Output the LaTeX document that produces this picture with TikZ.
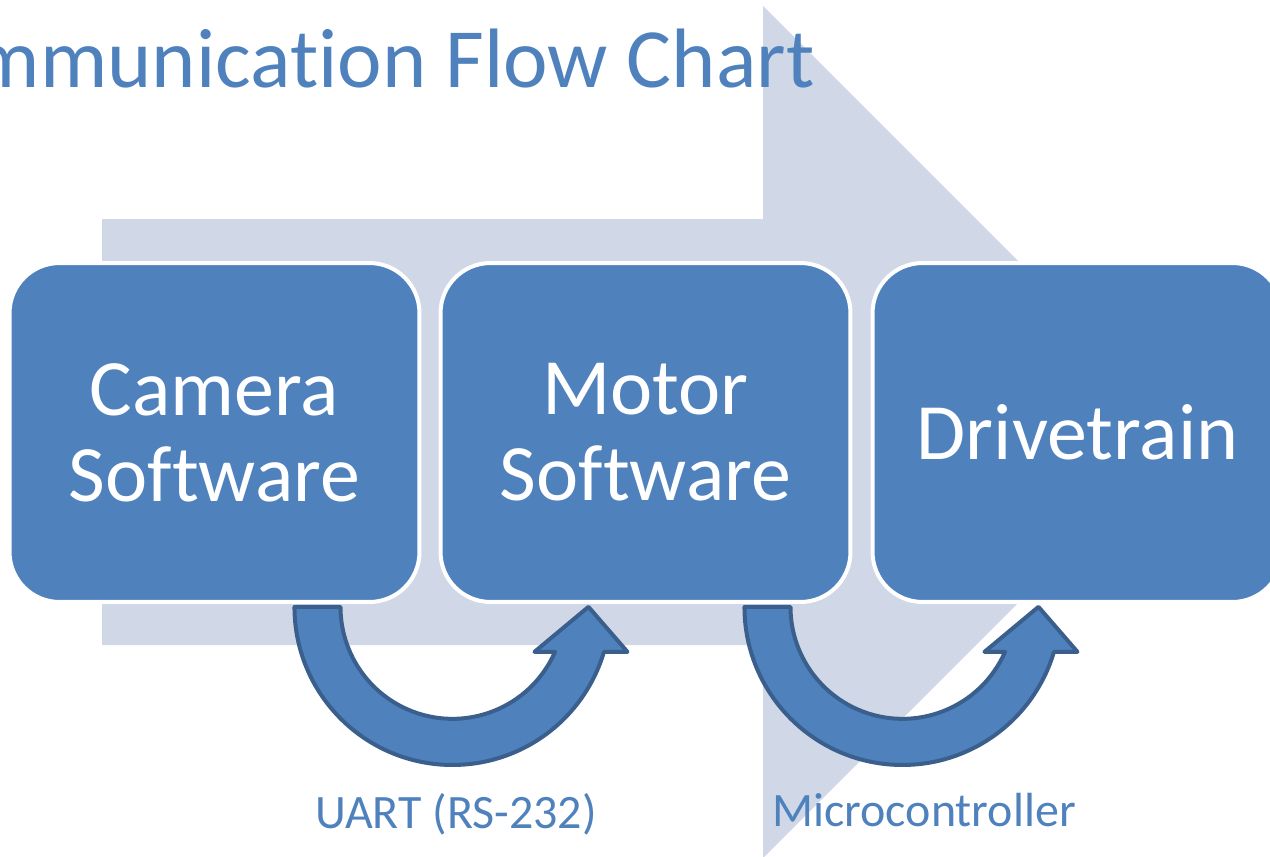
\documentclass[tikz,border=0pt]{standalone}
\usepackage{fontspec}
\setmainfont{Carlito}[Ligatures=NoCommon]
\usetikzlibrary{calc}
\definecolor{accent}{HTML}{4F81BD}
\definecolor{pale}{HTML}{D0D8E8}
\definecolor{rim}{HTML}{3A5F8C}

\begin{document}
\begin{tikzpicture}[
  x=0.02cm, y=-0.02cm,
  box/.style={draw=white, line width=0.08cm, fill=accent, rounded corners=1cm, minimum width=8.2cm, minimum height=6.78cm, inner sep=0pt, align=center, text=white, font=\fontsize{45.5pt}{48.9pt}\selectfont},
  lbl/.style={text=accent, inner sep=0pt, font=\fontsize{27.3pt}{30pt}\selectfont},
  turn/.style={draw=rim, line width=0.08cm, fill=accent, line join=round}
]
\clip (0,0) rectangle (1270,856);
% big background arrow
\fill[pale] (102,219) -- (763,219) -- (763,6) -- (1189,432) -- (763,858) -- (763,645) -- (102,645) -- cycle;
\node[text=accent, inner sep=0pt, anchor=base east, font=\fontsize{48pt}{56pt}\selectfont] (ttl) at (815,87) {Communication Flow Chart};
\node[box] (cam) at (214.5,432.5) {Camera\\Software};
\node[box] (mot) at (645.5,432.5) {Motor\\Software};
\node[box] (drv) at (1077.5,432.5) {Drivetrain};
\coordinate (u1) at ($(cam.south east)+(31,3)$);
\coordinate (u2) at ($(mot.south east)+(50,3)$);
\foreach \c in {u1,u2}
  \draw[turn] ($(\c)+(-158,0)$) arc[start angle=180, end angle=16.5, radius=158]
    -- ++(23.5,0) -- ++(-39,-45) -- ++(-54,45) -- ++(20.6,0)
    arc[start angle=23.7, end angle=180, radius=112] -- cycle;
\node[lbl, anchor=base west] (uart) at (315,828) {UART (RS-232)};
\node[lbl, anchor=base west] (mcu) at (772,826) {Microcontroller};
\end{tikzpicture}
\end{document}
